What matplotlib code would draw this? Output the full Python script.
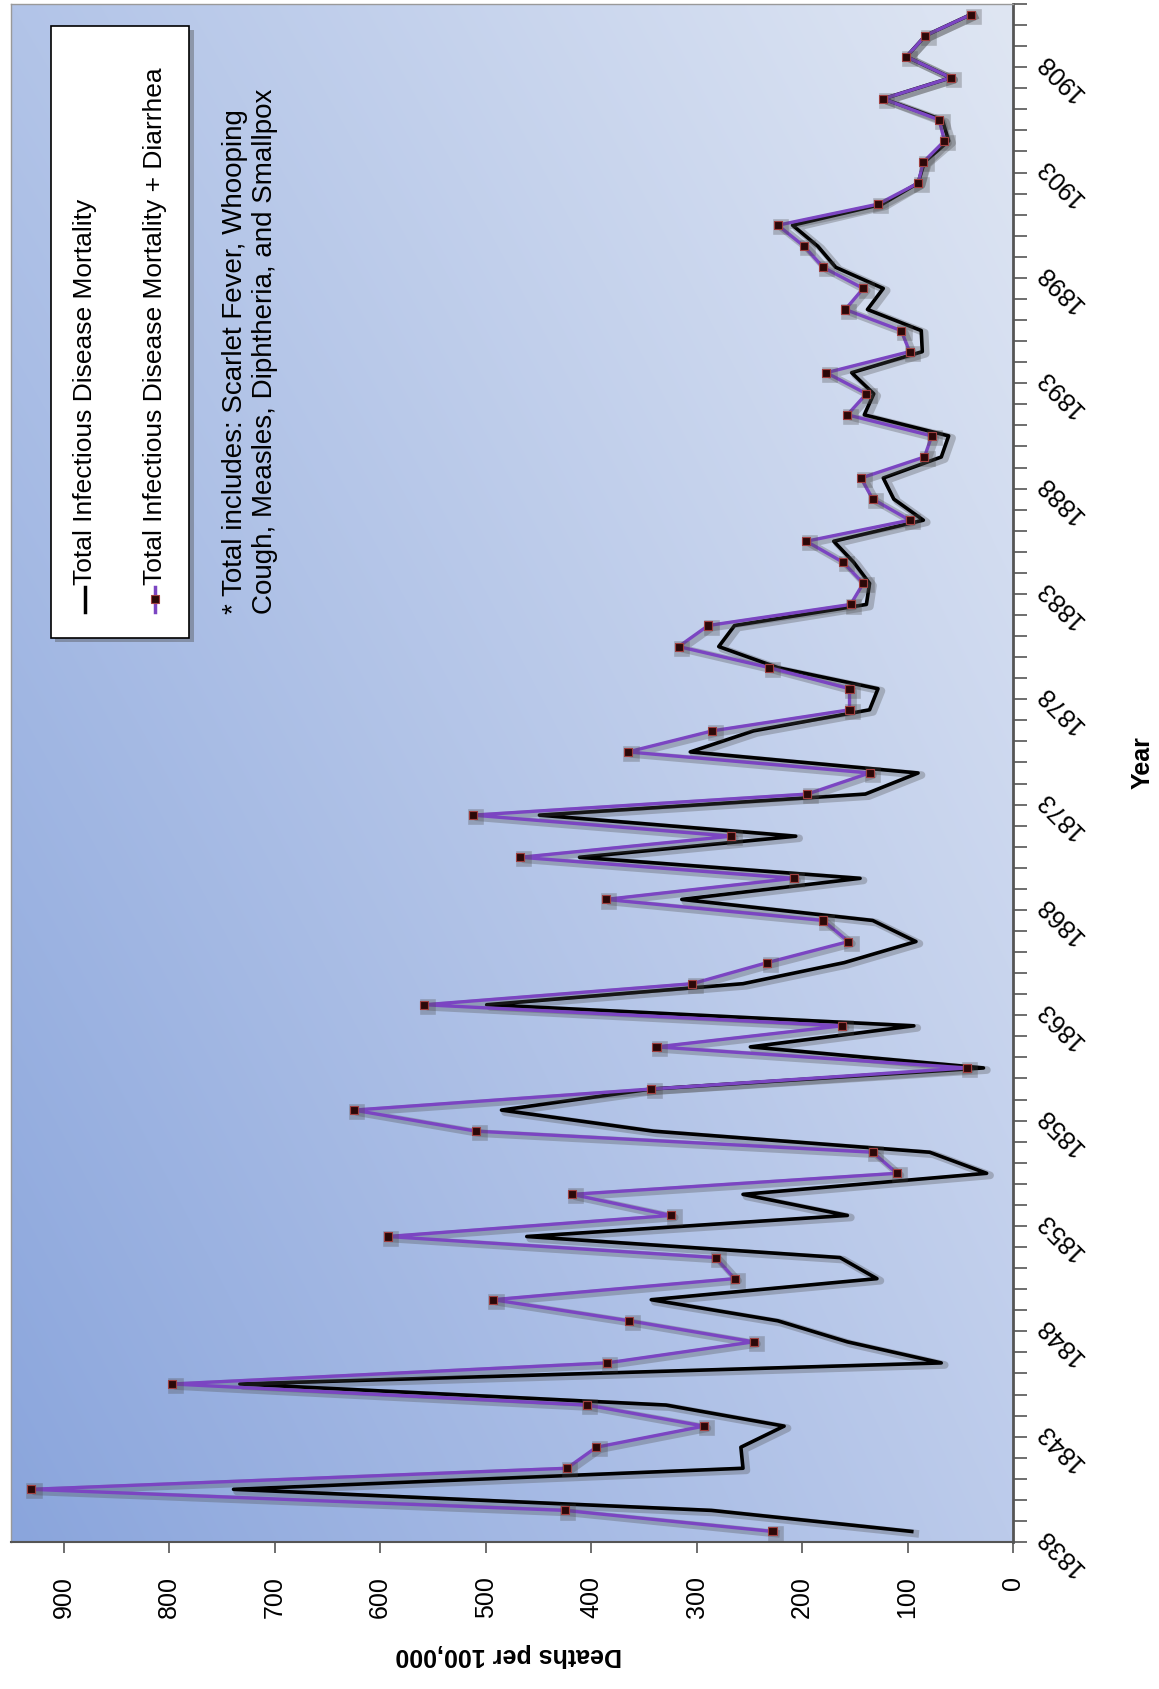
import numpy as np
import matplotlib
matplotlib.use('Agg')
import matplotlib.pyplot as plt
import matplotlib.patheffects as pe
from matplotlib.patches import Rectangle
from matplotlib.lines import Line2D

# data (deaths per 100,000)
years = list(range(1838, 1911))
total = [96, 286, 739, 256, 258, 217, 329, 733, 68, 157,
         223, 343, 129, 164, 461, 157, 256, 25, 79, 341,
         485, 343, 28, 249, 94, 499, 256, 160, 92, 133,
         314, 145, 411, 206, 449, 140, 90, 306, 246, 136,
         128, 223, 279, 264, 139, 136, 151, 170, 85, 113,
         123, 68, 61, 141, 132, 153, 86, 87, 138, 123,
         168, 185, 209, 124, 90, 84, 61, 67, 123, 59,
         101, 83, 40]
total_diarrhea = [228, 425, 931, 423, 395, 293, 404, 797, 385, 246,
                  364, 493, 264, 282, 593, 324, 418, 110, 133, 509,
                  625, 343, 44, 338, 162, 558, 304, 233, 156, 180,
                  386, 208, 467, 267, 512, 195, 136, 365, 285, 155,
                  155, 231, 317, 289, 154, 142, 161, 196, 98, 133,
                  144, 84, 77, 157, 139, 177, 98, 106, 159, 142,
                  180, 198, 223, 128, 90, 85, 65, 70, 123, 59,
                  101, 83, 40]
label_years = list(range(1838, 1911, 5))
death_ticks = list(range(0, 1000, 100))

narrow = ['Liberation Sans Narrow', 'Liberation Sans', 'DejaVu Sans']
plt.rcParams['font.family'] = ['Liberation Sans', 'DejaVu Sans']

fig = plt.figure(figsize=(11.59, 16.90), dpi=100, facecolor='white')
ax = fig.add_axes([11 / 1159, 1 - 1543 / 1690, 1002 / 1159, 1538 / 1690])

# blue gradient background
def rgb(h):
    return np.array([int(h[i:i + 2], 16) / 255 for i in (1, 3, 5)])

bl, br, tl, tr = rgb('#8aa5dc'), rgb('#bccbeb'), rgb('#b2c4e8'), rgb('#dfe6f3')
u = np.linspace(0, 1, 200)[None, :, None]
v = np.linspace(0, 1, 200)[:, None, None]
grad = (1 - v) * ((1 - u) * bl + u * br) + v * ((1 - u) * tl + u * tr)
ax.imshow(grad, extent=[0, 1, 0, 1], origin='lower', aspect='auto',
          transform=ax.transAxes, zorder=0, interpolation='bilinear')

shadow = [pe.SimpleLineShadow(offset=(2.5, -1.5), shadow_color='#4a4a4a', alpha=0.3, linewidth=5.5),
          pe.Normal()]
ax.plot(total, years, color='black', lw=2.6, zorder=3, path_effects=shadow)
ax.plot(total_diarrhea, years, color='#7b45c2', lw=2.4, marker='s', ms=5.8,
        mfc='#2b0808', mec='#a04040', mew=0.8, zorder=4, path_effects=shadow)

ax.set_xlim(950, 0)
ax.set_ylim(1837.5, 1910.5)

ax.set_xticks(death_ticks)
ax.set_xticklabels([str(t) for t in death_ticks], rotation=90, fontsize=18)
ax.tick_params(axis='x', direction='out', length=8, width=1.2, color='#555555', pad=16)

ax.yaxis.tick_right()
ax.set_yticks(label_years)
ax.set_yticklabels([str(y) for y in label_years], rotation=135,
                   rotation_mode='anchor', ha='right', va='center', fontsize=18)
ax.set_yticks(np.arange(1837.5, 1911, 1), minor=True)
ax.tick_params(axis='y', which='major', length=0, pad=20)
ax.tick_params(axis='y', which='minor', direction='out', length=10, width=1.2,
               color='#555555', right=True, left=False)

for side in ['left', 'top']:
    ax.spines[side].set_color('#999999')
    ax.spines[side].set_linewidth(1)
ax.spines['right'].set_color('#555555')
ax.spines['right'].set_linewidth(2)
ax.spines['bottom'].set_color('#555555')
ax.spines['bottom'].set_linewidth(1.5)

fig.text(509 / 1159, 1 - 1655 / 1690, 'Deaths per 100,000', rotation=180,
         fontsize=18, fontweight='bold', ha='center', va='center')
fig.text(1143 / 1159, 1 - 763 / 1690, 'Year', rotation=90,
         fontsize=18, fontweight='bold', ha='center', va='center')

# hand-built legend, drawn sideways like the rest of the chart
box = Rectangle((0.040, 0.588), 0.138, 0.398, transform=ax.transAxes,
                facecolor='white', edgecolor='black', lw=1.2, zorder=5,
                path_effects=[pe.SimplePatchShadow(offset=(3, -3), alpha=0.4), pe.Normal()])
ax.add_patch(box)
ax.add_line(Line2D([0.0739, 0.0739], [0.605, 0.621], transform=ax.transAxes,
                   color='black', lw=2.5, zorder=6))
ax.add_line(Line2D([0.1437, 0.1437], [0.605, 0.621], transform=ax.transAxes,
                   color='#7b45c2', lw=2.5, zorder=6))
ax.add_line(Line2D([0.1437], [0.613], transform=ax.transAxes, marker='s', ms=5.8,
                   mfc='#2b0808', mec='#a04040', mew=0.8, zorder=7))
ax.text(0.0739, 0.623, 'Total Infectious Disease Mortality', transform=ax.transAxes,
        rotation=90, ha='center', va='bottom', fontsize=19, family=narrow, zorder=7)
ax.text(0.1437, 0.623, 'Total Infectious Disease Mortality + Diarrhea', transform=ax.transAxes,
        rotation=90, ha='center', va='bottom', fontsize=19, family=narrow, zorder=7)
ax.text(0.2390, 0.604, '* Total includes: Scarlet Fever, Whooping\nCough, Measles, Diphtheria, and Smallpox',
        transform=ax.transAxes, rotation=90, ha='center', va='bottom', multialignment='left',
        fontsize=20, family=narrow, linespacing=1.2, zorder=7)

fig.savefig('out.png', dpi=100, facecolor='white')
